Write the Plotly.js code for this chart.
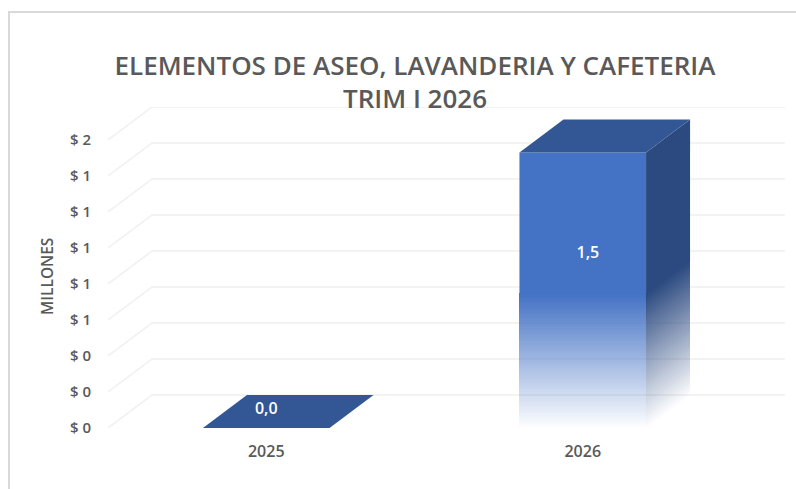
<!DOCTYPE html>
<html>
<head>
<meta charset="utf-8">
<script src="https://cdn.plot.ly/plotly-3.0.1.min.js"></script>
<style>html,body{margin:0;padding:0;background:#fff}#chart{width:796px;height:489px}</style>
</head>
<body>
<div id="chart"></div>
<script>
// Data
var categories = ['2025', '2026'];
var values = [0.0, 1.53];
var yTicks = [0, 0.2, 0.4, 0.6, 0.8, 1.0, 1.2, 1.4, 1.6];
var yTickLabels = ['$ 0', '$ 0', '$ 0', '$ 1', '$ 1', '$ 1', '$ 1', '$ 1', '$ 2'];

// Oblique projection of the 3D box, in axis units
var DX = 0.139, DY = 0.1833, HALF = 0.2;
var FRONT = '#4472C4', SIDE = '#2C4A80', TOP = '#335694', GRID = '#F0F0F0', TXT = '#595959';
var FONT = '"Open Sans", "Noto Sans", sans-serif';
var FADE = 0.49;   // share of the bar height that fades out
var STEPS = 68;

function rgba(hex, a) {
  var n = parseInt(hex.slice(1), 16);
  return 'rgba(' + (n >> 16) + ',' + ((n >> 8) & 255) + ',' + (n & 255) + ',' + a.toFixed(4) + ')';
}
function poly(xs, ys, col) {
  return {type: 'scatter', mode: 'none', fill: 'toself', fillcolor: col,
          x: xs, y: ys, hoverinfo: 'skip', showlegend: false};
}

var traces = [];

// Solid upper part of each front face (its lower edge lies under the last fade slices)
var solidFrom = function (v) { return v * FADE * (1 - 0.5 / STEPS); };
traces.push({
  type: 'bar',
  x: values.map(function (v, i) { return i; }),
  base: values.map(solidFrom),
  y: values.map(function (v) { return v - solidFrom(v); }),
  width: 2 * HALF,
  marker: {color: FRONT, line: {width: 0}},
  hoverinfo: 'skip', showlegend: false
});

// Solid upper part of each side face, and top faces
values.forEach(function (v, i) {
  var x0 = i + HALF, x1 = x0 + DX, f = solidFrom(v);
  if (v > 0) traces.push(poly([x0, x1, x1, x0, x0], [f, f + DY, v + DY, v, f], SIDE));
  traces.push(poly([i - HALF, i + HALF, x1, i - HALF + DX, i - HALF], [v, v, v + DY, v + DY, v], TOP));
});

// Fading lower part of front and side faces: thin slices that tile exactly
var fadeStart = traces.length;
values.forEach(function (v, i) {
  if (v <= 0) return;
  var f = v * FADE, xa = i - HALF, x0 = i + HALF, x1 = x0 + DX;
  for (var k = 0; k < STEPS; k++) {
    var lo = f * k / STEPS, hi = f * (k + 1) / STEPS, a = (k + 1) / STEPS;
    traces.push(poly([xa, x0, x0, xa, xa], [lo, lo, hi, hi, lo], rgba(FRONT, a)));
    traces.push(poly([x0, x1, x1, x0, x0], [lo, lo + DY, hi + DY, hi, lo], rgba(SIDE, a)));
  }
});
var fadeEnd = traces.length;

// Data labels
traces.push({
  type: 'scatter', mode: 'text',
  x: values.map(function (v, i) { return i + 0.0105 * v; }),
  y: values.map(function (v) { return 0.10 + 0.567 * v; }),
  text: values.map(function (v) { return v.toFixed(1).replace('.', ','); }),
  textposition: 'middle center',
  textfont: {family: FONT, size: 16, color: '#FFFFFF', weight: 600},
  hoverinfo: 'skip', showlegend: false
});

// Gridlines on the side wall and back wall
var xL = -0.5, xR = 1.5;
var shapes = yTicks.map(function (t) {
  return {
    type: 'path', layer: 'below', xref: 'x', yref: 'y',
    path: 'M' + xL + ',' + t + ' L' + (xL + DX) + ',' + (t + DY) + ' L' + (xR + DX) + ',' + (t + DY),
    line: {color: GRID, width: 1.5}
  };
});

// Chart frame (only its top and left edges fall inside the picture)
shapes.push({
  type: 'rect', layer: 'below', xref: 'paper', yref: 'paper',
  x0: (9 - 108) / 677, x1: 1.1, y0: -0.5, y1: 1 + (107 - 12) / 321,
  line: {color: '#D9D9D9', width: 2}, fillcolor: 'rgba(0,0,0,0)'
});

var layout = {
  width: 796, height: 489,
  margin: {l: 108, r: 11, t: 107, b: 61},
  paper_bgcolor: '#FFFFFF', plot_bgcolor: 'rgba(0,0,0,0)',
  barmode: 'overlay', showlegend: false, hovermode: false,
  title: {
    text: 'ELEMENTOS DE ASEO, LAVANDERIA Y CAFETERIA<br>TRIM I 2026',
    x: 415 / 796, xanchor: 'center', y: 1 - 74.5 / 489, yanchor: 'middle',
    font: {family: FONT, size: 26, color: TXT, weight: 600}
  },
  xaxis: {
    range: [xL, xR + DX], tickmode: 'array', tickvals: [0, 1], ticktext: categories,
    showgrid: false, zeroline: false, showline: false,
    ticks: 'outside', ticklen: 9, tickcolor: 'rgba(0,0,0,0)',
    tickfont: {family: FONT, size: 16, color: TXT, weight: 600}
  },
  yaxis: {
    range: [0, 1.6 + DY], tickmode: 'array', tickvals: yTicks, ticktext: yTickLabels,
    showgrid: false, zeroline: false, showline: false,
    ticks: 'outside', ticklen: 13, tickcolor: 'rgba(0,0,0,0)',
    tickfont: {family: FONT, size: 15, color: TXT, weight: 600}
  },
  shapes: shapes,
  annotations: [{
    text: 'MILLONES', textangle: -90, showarrow: false,
    xref: 'paper', yref: 'y', x: (47 - 108) / 677, y: 0.839,
    xanchor: 'center', yanchor: 'middle',
    font: {family: FONT, size: 15.5, color: TXT, weight: 600}
  }]
};

Plotly.newPlot('chart', traces, layout, {displayModeBar: false, responsive: false}).then(function (gd) {
  // Turn off anti-aliasing on the fade slices so neighbouring slices leave no seams
  var groups = gd.querySelectorAll('.scatterlayer .trace');
  var firstScatter = 1; // trace 0 is the bar
  for (var t = fadeStart; t < fadeEnd; t++) {
    var g = groups[t - firstScatter];
    if (g) g.querySelectorAll('path').forEach(function (p) { p.style.shapeRendering = 'crispEdges'; });
  }
});
</script>
</body>
</html>
